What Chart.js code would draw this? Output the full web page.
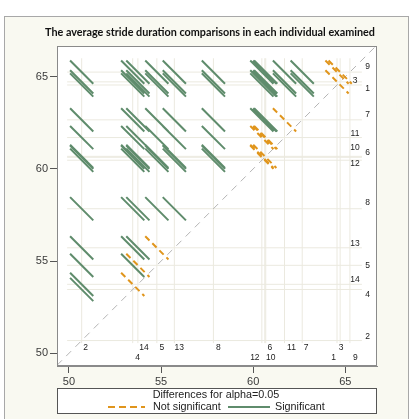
<!DOCTYPE html>
<html>
<head>
<meta charset="utf-8">
<script src="https://cdn.jsdelivr.net/npm/chart.js@4.4.1/dist/chart.umd.min.js"></script>
<style>
html, body { margin: 0; padding: 0; background: #fff; }
#wrap { position: absolute; left: 0; top: 0; width: 411px; height: 419px; }
</style>
</head>
<body>
<div id="wrap"><canvas id="diffogram" width="411" height="419"></canvas></div>
<script>
// individuals and their mean stride duration
var individuals = ['1', '2', '3', '4', '5', '6', '7', '8', '9', '10', '11', '12', '13', '14'];
var means = [64.55, 50.69, 64.72, 53.46, 54.77, 60.63, 62.66, 57.84, 65.25, 60.68, 61.70, 60.47, 55.72, 53.74];
// half-width of the confidence interval for a difference (same for every pair)
var ciHalfWidth = 1.26;
var axisTicks = [50, 55, 60, 65];
var xMin = 49.35, xMax = 66.72;
var yMin = 49.31, yMax = 66.665;

// label layout: bottom row (0 = upper, 1 = lower), right column (0 = inner, 1 = outer), nudges in px
var bottomRow = [1, 0, 0, 1, 0, 0, 0, 0, 1, 1, 0, 1, 0, 0];
var rightCol = [1, 1, 0, 1, 1, 1, 1, 1, 1, 0, 0, 0, 0, 0];
var nudgeX = [-3.5, 4, 1, 5, 5, 5, 4, 5, 5.5, 5, 7, -7, 5, 6];
var nudgeY = [3.5, -4, -1, 5, 0, -5, -5, -6, -5.5, -9, -4, 3, -4.5, -5];

var green = '#5f8c6c';
var orange = '#e0951c';
var titleText = 'The average stride duration comparisons in each individual examined';

// one segment per pair, slope -1, centred at (lower mean, higher mean)
var sigPts = [], nsPts = [];
for (var i = 0; i < means.length; i++) {
    for (var j = 0; j < means.length; j++) {
        if (i === j || means[i] >= means[j]) continue;
        var lo = means[i], hi = means[j];
        var h = ciHalfWidth / 2;
        var target = (hi - lo < ciHalfWidth) ? nsPts : sigPts;
        target.push({x: lo - h, y: hi + h}, {x: lo + h, y: hi - h}, {x: null, y: null});
    }
}

// light reference lines at every mean
var refPts = [];
means.forEach(function (m) {
    refPts.push({x: m, y: 50.55}, {x: m, y: 66.0}, {x: null, y: null});
    refPts.push({x: 49.9, y: m}, {x: 65.9, y: m}, {x: null, y: null});
});

var framePlugin = {
    id: 'frame',
    beforeDraw: function (chart) {
        var ctx = chart.ctx, a = chart.chartArea;
        ctx.save();
        ctx.fillStyle = '#fff';
        ctx.fillRect(0, 0, chart.width, chart.height);
        ctx.fillStyle = '#f9f9f1';
        ctx.fillRect(4, 16, 405, 410);
        ctx.strokeStyle = '#a8a8a8';
        ctx.lineWidth = 1;
        ctx.strokeRect(4.5, 16.5, 404, 410);
        ctx.fillStyle = '#fff';
        ctx.fillRect(a.left, a.top, a.right - a.left, a.bottom - a.top);
        ctx.fillStyle = '#111';
        ctx.font = 'bold 10.8px Lato, "Open Sans", sans-serif';
        ctx.textAlign = 'center';
        ctx.textBaseline = 'middle';
        ctx.fillText(titleText, 210, 33);
        ctx.restore();
    },
    afterDraw: function (chart) {
        var ctx = chart.ctx, a = chart.chartArea;
        var xs = chart.scales.x, ys = chart.scales.y;
        ctx.save();
        ctx.strokeStyle = '#8a8a8a';
        ctx.lineWidth = 1;
        ctx.strokeRect(a.left + 0.5, a.top + 0.5, a.right - a.left - 1, a.bottom - a.top - 1);

        // individual labels along the bottom and the right side
        ctx.fillStyle = '#222';
        ctx.font = '8.5px "Liberation Sans", Arial, sans-serif';
        ctx.textAlign = 'center';
        ctx.textBaseline = 'middle';
        individuals.forEach(function (name, k) {
            var bx = xs.getPixelForValue(means[k]) + nudgeX[k];
            var by = a.bottom - (bottomRow[k] ? 8.3 : 18.3);
            ctx.fillText(name, bx, by);
            var rx = a.right - (rightCol[k] ? 9.3 : 22);
            var ry = ys.getPixelForValue(means[k]) + nudgeY[k];
            ctx.fillText(name, rx, ry);
        });

        // legend box
        var top = a.bottom + 22, left = a.left, w = a.right - a.left;
        ctx.fillStyle = '#fff';
        ctx.fillRect(left, top, w, 26);
        ctx.strokeStyle = '#555';
        ctx.strokeRect(left + 0.5, top + 0.5, w - 1, 25);
        ctx.fillStyle = '#222';
        ctx.font = '10.8px "Liberation Sans", Arial, sans-serif';
        ctx.textAlign = 'center';
        ctx.fillText('Differences for alpha=0.05', left + 159, top + 7);
        ctx.textAlign = 'left';
        var ly = top + 19;
        ctx.lineWidth = 2;
        ctx.strokeStyle = orange;
        ctx.setLineDash([7, 4]);
        ctx.beginPath(); ctx.moveTo(left + 51, ly); ctx.lineTo(left + 88, ly); ctx.stroke();
        ctx.setLineDash([]);
        ctx.fillText('Not significant', left + 96, ly);
        ctx.strokeStyle = green;
        ctx.beginPath(); ctx.moveTo(left + 171, ly); ctx.lineTo(left + 213, ly); ctx.stroke();
        ctx.fillText('Significant', left + 218, ly);
        ctx.restore();
    }
};

function axis(min, max, fit) {
    return {
        type: 'linear',
        min: min,
        max: max,
        afterBuildTicks: function (s) {
            s.ticks = axisTicks.map(function (v) { return {value: v}; });
        },
        afterFit: fit,
        grid: { drawOnChartArea: false, drawTicks: true, tickLength: 7, color: '#555' },
        border: { display: true, color: '#8a8a8a' },
        ticks: {
            padding: 2,
            color: '#3a3a3a',
            font: { family: '"Liberation Sans", Arial, sans-serif', size: 11 }
        }
    };
}

new Chart(document.getElementById('diffogram'), {
    type: 'scatter',
    data: {
        datasets: [
            {
                label: 'Not significant',
                data: nsPts,
                showLine: true,
                spanGaps: false,
                borderColor: orange,
                borderWidth: 2,
                borderDash: [6, 4],
                pointRadius: 0,
                order: 0
            },
            {
                label: 'Significant',
                data: sigPts,
                showLine: true,
                spanGaps: false,
                borderColor: green,
                borderWidth: 2,
                pointRadius: 0,
                order: 1
            },
            {
                label: 'diagonal',
                data: [{x: xMin, y: xMin}, {x: yMax, y: yMax}],
                showLine: true,
                borderColor: '#b5b5b5',
                borderWidth: 1,
                borderDash: [7, 6],
                pointRadius: 0,
                order: 2
            },
            {
                label: 'reference',
                data: refPts,
                showLine: true,
                spanGaps: false,
                borderColor: '#ebe9df',
                borderWidth: 1,
                pointRadius: 0,
                order: 3
            }
        ]
    },
    options: {
        responsive: false,
        animation: false,
        layout: { padding: { left: 4, right: 34, top: 46, bottom: 33 } },
        plugins: {
            legend: { display: false },
            tooltip: { enabled: false },
            title: { display: false }
        },
        scales: {
            x: axis(xMin, xMax, function (s) { s.height = 20; }),
            y: axis(yMin, yMax, function (s) { s.width = 53; })
        }
    },
    plugins: [framePlugin]
});
</script>
</body>
</html>
